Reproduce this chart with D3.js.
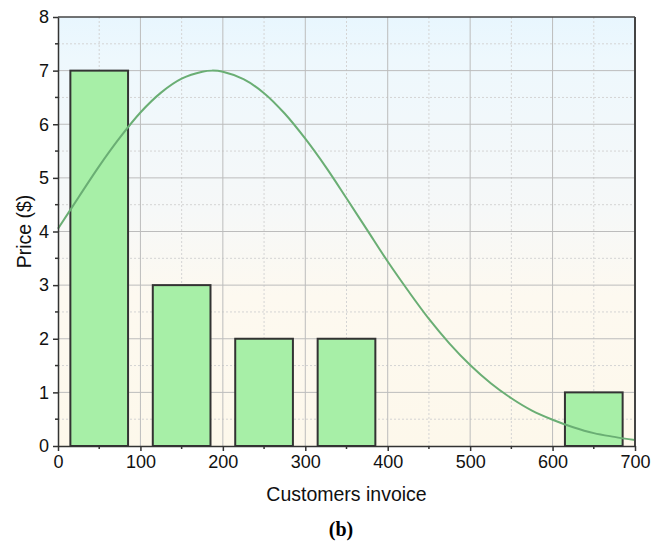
<!DOCTYPE html>
<html>
<head>
<meta charset="utf-8">
<script src="https://cdn.jsdelivr.net/npm/d3@7"></script>
<style>
  html, body { margin: 0; padding: 0; background: #fff; }
  svg { display: block; font-family: "Liberation Sans", Arial, sans-serif; }
</style>
</head>
<body>
<svg id="chart" width="665" height="543"></svg>
<script>
// Histogram bins: centre of each bin and its count
const binCenters = [50, 150, 250, 350, 650];
const binCounts = [7, 3, 2, 2, 1];
const binWidth = 70;

// Fitted distribution curve, sampled along the x axis
const curveX = [0, 25, 50, 75, 100, 125, 150, 175, 187, 200, 225, 250, 275, 300, 325, 350,
                375, 400, 425, 450, 475, 500, 525, 550, 575, 600, 625, 650, 675, 700];
const curveY = [4.05, 4.64, 5.22, 5.75, 6.22, 6.59, 6.85, 6.98, 7.0, 6.98, 6.84, 6.58, 6.20, 5.73, 5.20, 4.62,
                4.03, 3.44, 2.89, 2.37, 1.91, 1.51, 1.17, 0.89, 0.66, 0.49, 0.35, 0.24, 0.17, 0.11];

const xTicks = [0, 100, 200, 300, 400, 500, 600, 700];
const yTicks = [0, 1, 2, 3, 4, 5, 6, 7, 8];
const xMinor = [50, 150, 250, 350, 450, 550, 650];
const yMinor = [0.5, 1.5, 2.5, 3.5, 4.5, 5.5, 6.5, 7.5];

const margin = { left: 58, right: 30, top: 17, bottom: 97 };
const W = 665, H = 543;
const iw = W - margin.left - margin.right;
const ih = H - margin.top - margin.bottom;

const svg = d3.select("#chart");
const defs = svg.append("defs");
const grad = defs.append("linearGradient").attr("id", "bg")
  .attr("x1", 0).attr("y1", 0).attr("x2", 0).attr("y2", 1);
grad.append("stop").attr("offset", "0%").attr("stop-color", "#e8f6fe");
grad.append("stop").attr("offset", "10%").attr("stop-color", "#eef8fd");
grad.append("stop").attr("offset", "45%").attr("stop-color", "#f6f8f8");
grad.append("stop").attr("offset", "65%").attr("stop-color", "#fdf9f0");
grad.append("stop").attr("offset", "100%").attr("stop-color", "#fdf8eb");

const g = svg.append("g").attr("transform", `translate(${margin.left},${margin.top})`);

const x = d3.scaleLinear().domain([0, 700]).range([0, iw]);
const y = d3.scaleLinear().domain([0, 8]).range([ih, 0]);

g.append("rect").attr("width", iw).attr("height", ih).attr("fill", "url(#bg)");

// minor grid (dotted)
g.selectAll(".vminor").data(xMinor).join("line")
  .attr("x1", d => x(d)).attr("x2", d => x(d)).attr("y1", 0).attr("y2", ih)
  .attr("stroke", "#d4d4d4").attr("stroke-width", 1).attr("stroke-dasharray", "2,2");
g.selectAll(".hminor").data(yMinor).join("line")
  .attr("y1", d => y(d)).attr("y2", d => y(d)).attr("x1", 0).attr("x2", iw)
  .attr("stroke", "#d4d4d4").attr("stroke-width", 1).attr("stroke-dasharray", "2,2");
// major grid
g.selectAll(".vmajor").data(xTicks.slice(1, -1)).join("line")
  .attr("x1", d => x(d)).attr("x2", d => x(d)).attr("y1", 0).attr("y2", ih)
  .attr("stroke", "#bcbcbc").attr("stroke-width", 1);
g.selectAll(".hmajor").data(yTicks.slice(1, -1)).join("line")
  .attr("y1", d => y(d)).attr("y2", d => y(d)).attr("x1", 0).attr("x2", iw)
  .attr("stroke", "#bcbcbc").attr("stroke-width", 1);

// histogram bars
g.selectAll(".bar").data(binCenters.map((c, i) => ({ c, v: binCounts[i] }))).join("rect")
  .attr("x", d => x(d.c - binWidth / 2))
  .attr("width", d => x(d.c + binWidth / 2) - x(d.c - binWidth / 2))
  .attr("y", d => y(d.v))
  .attr("height", d => y(0) - y(d.v))
  .attr("fill", "#a7efa7").attr("stroke", "#333").attr("stroke-width", 2);

// distribution curve
const line = d3.line().x(d => x(d[0])).y(d => y(d[1])).curve(d3.curveCatmullRom);
g.append("path").datum(curveX.map((v, i) => [v, curveY[i]]))
  .attr("d", line).attr("fill", "none").attr("stroke", "#6aae74").attr("stroke-width", 2);

// frame
g.append("line").attr("x1", 0).attr("x2", iw).attr("y1", 0).attr("y2", 0)
  .attr("stroke", "#444").attr("stroke-width", 1.5);
g.append("line").attr("x1", iw).attr("x2", iw).attr("y1", 0).attr("y2", ih)
  .attr("stroke", "#444").attr("stroke-width", 2);

// axes
const xAxis = g.append("g").attr("transform", `translate(0,${ih})`)
  .call(d3.axisBottom(x).tickValues(xTicks).tickSize(5).tickSizeOuter(0).tickPadding(4));
const yAxis = g.append("g")
  .call(d3.axisLeft(y).tickValues(yTicks).tickSize(5).tickSizeOuter(0).tickPadding(4));
[xAxis, yAxis].forEach(a => {
  a.attr("font-size", 18).attr("font-family", "'Liberation Sans', Arial, sans-serif");
  a.select(".domain").attr("stroke", "#333").attr("stroke-width", 1.5);
  a.selectAll(".tick line").attr("stroke", "#333").attr("stroke-width", 1.5);
  a.selectAll(".tick text").attr("fill", "#111");
});
// minor ticks
g.selectAll(".xmt").data(xMinor).join("line")
  .attr("x1", d => x(d)).attr("x2", d => x(d)).attr("y1", ih).attr("y2", ih + 3)
  .attr("stroke", "#333").attr("stroke-width", 1.5);
g.selectAll(".ymt").data(yMinor).join("line")
  .attr("y1", d => y(d)).attr("y2", d => y(d)).attr("x1", 0).attr("x2", -3)
  .attr("stroke", "#333").attr("stroke-width", 1.5);

// axis titles
svg.append("text").attr("x", margin.left + iw / 2).attr("y", 501)
  .attr("text-anchor", "middle").attr("fill", "#111").attr("font-size", 19.5)
  .text("Customers invoice");
svg.append("text").attr("transform", `translate(31,${margin.top + ih / 2}) rotate(-90)`)
  .attr("text-anchor", "middle").attr("fill", "#111").attr("font-size", 19.5)
  .text("Price ($)");
svg.append("text").attr("x", 341).attr("y", 536)
  .attr("text-anchor", "middle").attr("fill", "#000")
  .attr("font-family", "'Liberation Serif', 'Times New Roman', serif")
  .attr("font-weight", "bold").attr("font-size", 20)
  .text("(b)");
</script>
</body>
</html>
